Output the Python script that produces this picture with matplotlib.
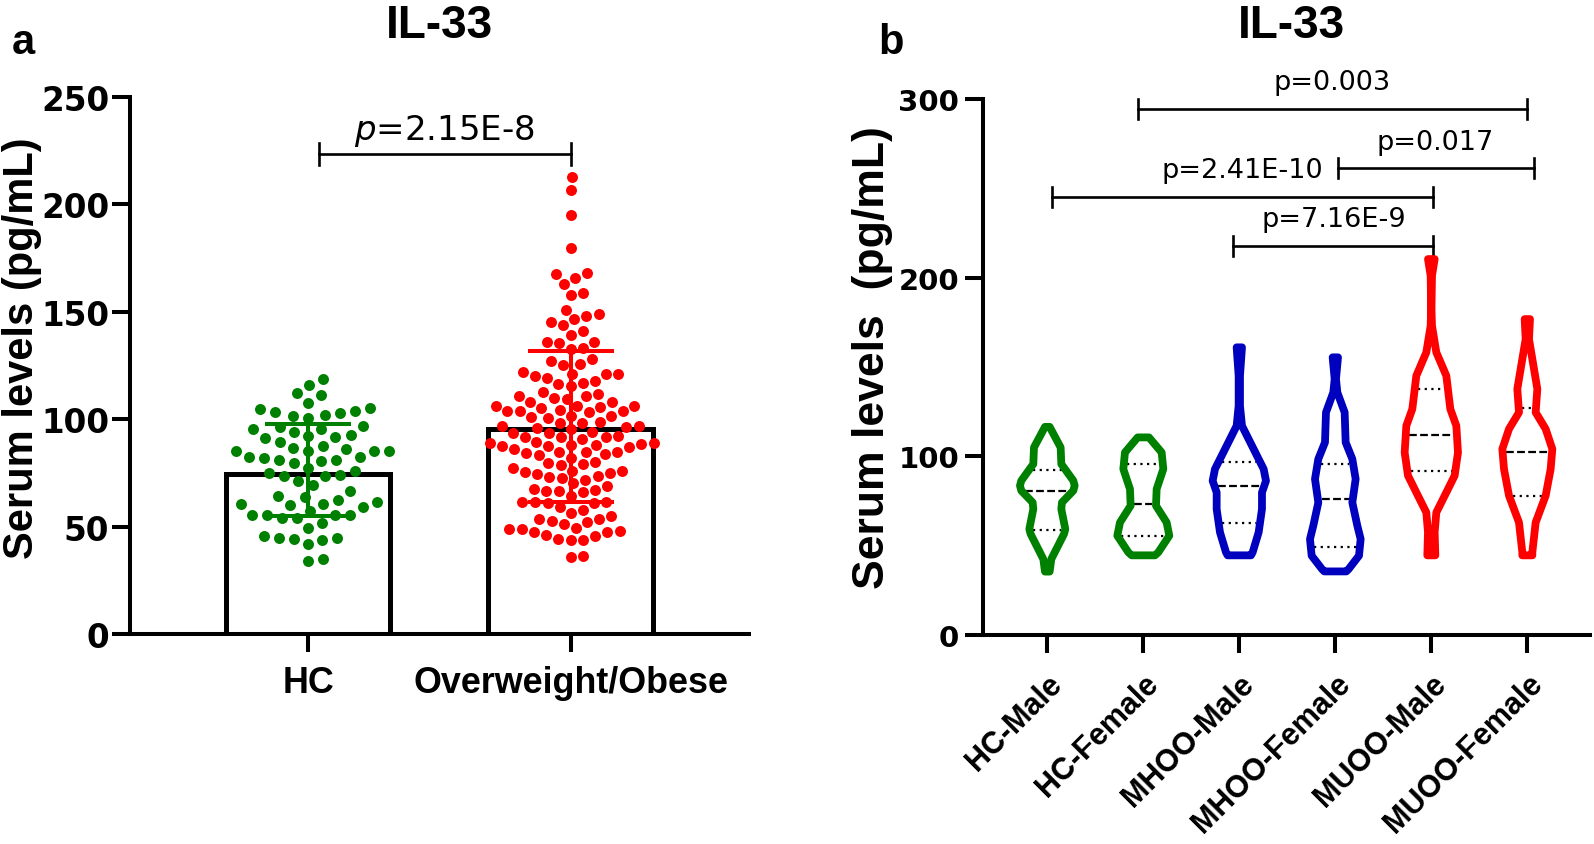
import numpy as np
import matplotlib
matplotlib.use("Agg")
import matplotlib.pyplot as plt

# ---------------- panel a data ----------------
groups_a = ["HC", "Overweight/Obese"]
bar_mean = [74.6, 95.5]
err_low = [54.9, 61.7]
err_high = [97.8, 131.9]

hc_values = [118.7, 116.0, 112.1, 111.3, 107.6,
             105.2, 104.8, 104.0, 103.2, 102.8, 102.2, 101.7, 100.5,
             97.0, 96.6, 95.5, 95.5, 94.0, 92.8, 92.1, 91.6, 91.2, 89.3,
             87.4, 86.7, 86.2, 85.1, 85.1, 85.1, 85.1,
             82.3, 82.3, 81.9, 81.2, 81.1, 80.5, 79.5, 77.2, 75.8,
             75.0, 74.1, 73.8, 73.5, 71.5, 69.6, 66.5,
             64.5, 63.7, 62.6, 61.4, 60.6, 60.3, 60.6, 59.1,
             57.2, 55.7, 55.7, 55.7, 54.1, 54.1, 55.7, 51.8, 49.5,
             45.9, 44.8, 44.7, 44.4, 43.9, 42.0, 35.1, 34.0]

ow_values = [212.5, 206.7, 195.0, 179.5, 168.0, 167.5, 165.7, 162.9, 158.7, 157.9,
             151.0, 148.9, 148.2, 146.6, 145.1, 144.0, 141.1, 139.3, 135.8, 135.3,
             136.1, 132.7, 133.1,
             128.0, 127.2, 125.7, 125.2,
             120.3, 122.1, 119.2, 121.1, 121.1, 121.1, 118.0, 116.9, 116.4,
             115.3, 112.5, 111.8, 110.7, 109.4, 109.8, 111.0,
             106.3, 106.0, 105.3, 104.0, 104.0, 108.2, 104.0, 106.3, 107.9, 104.5, 105.6,
             103.2, 100.9, 98.6, 96.7, 98.3, 101.4, 100.5, 101.7, 98.3, 96.7, 96.6, 95.5, 96.0,
             91.9, 91.9, 93.5, 93.5, 94.2, 92.1,
             88.5, 89.6, 88.8, 87.4, 87.4, 90.8, 91.9, 88.1, 88.1, 87.0, 88.8,
             84.6, 86.2, 84.9, 84.9, 83.9, 83.4, 84.2, 82.0,
             80.3, 78.8, 79.7, 77.4, 79.2,
             75.4, 76.1, 74.6, 76.1, 73.5, 74.9, 73.3, 72.6, 71.9, 70.2,
             69.1, 67.6, 66.5, 66.8, 66.1, 67.1, 64.5,
             61.4, 61.4, 60.9, 61.4, 60.9, 59.4, 58.0, 56.4, 54.9,
             53.6, 53.6, 52.6, 51.3, 52.4, 49.0, 48.2, 47.8, 49.0, 47.5, 49.3, 46.4, 45.9,
             44.4, 44.0, 44.0, 36.6, 35.8]

p_a = r"$\mathit{p}$=2.15E-8"
bracket_a = [0.043, 1.0, 223.3]

# ---------------- panel b data ----------------
groups_b = ["HC-Male", "HC-Female", "MHOO-Male", "MHOO-Female", "MUOO-Male", "MUOO-Female"]
colors_b = ["#008000", "#008000", "#0000bf", "#0000bf", "#ff0000", "#ff0000"]

# violin outline: levels (pg/mL) and relative half-width (density) at each level
vio_levels = [
    [116.5, 105.0, 95.7, 86.4, 83.6, 80.8, 74.2, 70.5, 59.3, 56.5, 42.5, 35.5],
    [110.6, 102.2, 92.9, 81.7, 72.4, 63.0, 55.6, 46.3, 44.6],
    [161.0, 145.1, 128.3, 117.1, 105.9, 92.9, 86.3, 79.8, 70.5, 57.5, 46.3, 44.6],
    [155.4, 143.3, 135.8, 124.6, 107.8, 98.5, 87.3, 74.2, 61.2, 53.7, 44.4, 36.9, 35.6],
    [210.4, 201.1, 182.4, 173.1, 158.2, 145.1, 126.5, 117.1, 102.2, 89.2, 79.8, 68.6, 57.5, 44.6],
    [176.8, 165.6, 148.9, 137.7, 124.6, 115.3, 104.1, 92.9, 78.0, 63.0, 46.3, 44.6],
]
vio_density = [
    [7, 40, 42, 78, 82, 78, 44, 42, 54, 50, 12, 7],
    [17, 55, 60, 40, 38, 70, 78, 45, 35],
    [8, 2, 2, 8, 38, 73, 80, 68, 68, 58, 40, 35],
    [8, 2, 6, 28, 31, 51, 61, 51, 66, 76, 71, 40, 33],
    [10, 2, 0.5, 2, 15, 45, 57, 75, 80, 70, 45, 15, 10, 12],
    [8, 5, 20, 30, 25, 55, 75, 70, 55, 25, 15, 15],
]
q1 = [58.8, 55.2, 62.6, 49.1, 91.9, 77.6]
median = [80.8, 73.3, 83.6, 76.1, 112.1, 102.2]
q3 = [92.3, 95.7, 97.0, 95.7, 137.7, 126.9]

# comparisons: (left group pos, right group pos, bracket level, label, label x, label y)
comparisons = [
    (0.94, 5.0, 294.3, "p=0.003", 2.97, 305.5),
    (3.03, 5.07, 261.1, "p=0.017", 4.04, 272.0),
    (0.046, 4.02, 245.3, "p=2.41E-10", 2.03, 256.1),
    (1.93, 4.02, 217.9, "p=7.16E-9", 2.98, 229.0),
]

LABEL_FONT = "Liberation Sans"
TICK_FONT = "DejaVu Sans"


def swarm_x(vals, center, ax, gap_px):
    """beeswarm placement in display pixels, closest to the centre line first"""
    trans = ax.transData
    vals = np.asarray(vals, dtype=float)
    y_px = trans.transform(np.column_stack([np.zeros(len(vals)), vals]))[:, 1]
    x0 = trans.transform([[center, 0]])[0, 0]
    px_per_x = trans.transform([[center + 1, 0]])[0, 0] - x0
    xs = np.zeros(len(vals))
    placed = []
    for i in np.argsort(vals):
        cands = [0.0]
        for px, py in placed:
            dy = y_px[i] - py
            if abs(dy) < gap_px:
                dx = np.sqrt(gap_px ** 2 - dy ** 2)
                cands += [px + dx, px - dx]
        cands.sort(key=abs)
        for c in cands:
            if all((c - px) ** 2 + (y_px[i] - py) ** 2 >= gap_px ** 2 - 1e-6 for px, py in placed):
                xs[i] = c
                placed.append((c, y_px[i]))
                break
    return center + xs / px_per_x


def style_axes(ax):
    for s in ["top", "right"]:
        ax.spines[s].set_visible(False)
    for s in ["left", "bottom"]:
        ax.spines[s].set_linewidth(2.9)
    ax.tick_params(axis="both", direction="out", length=13, width=2.9)


def bracket(ax, x1, x2, y, cap):
    ax.plot([x1, x2], [y, y], color="black", lw=1.9, clip_on=False)
    for x in (x1, x2):
        ax.plot([x, x], [y - cap, y + cap], color="black", lw=1.9, clip_on=False)


fig = plt.figure(figsize=(15.94, 8.45), dpi=100)

# ---------------- panel a ----------------
ax1 = fig.add_axes([0.0816, 0.248, 0.3883, 0.6365])
ax1.set_xlim(-0.678, 1.68)
ax1.set_ylim(0, 250)
style_axes(ax1)

xpos = np.arange(len(groups_a))
ax1.bar(xpos, bar_mean, width=0.625, fill=False, edgecolor="black", linewidth=3.6, zorder=2)

for i, (vals, col, gap) in enumerate(zip([hc_values, ow_values], ["#008000", "#ff0000"], [15.0, 12.6])):
    xs = swarm_x(vals, i, ax1, gap)
    ax1.plot(xs, vals, "o", color=col, markersize=7.9, markeredgewidth=0, zorder=3)
    ax1.errorbar(i, bar_mean[i], yerr=[[bar_mean[i] - err_low[i]], [err_high[i] - bar_mean[i]]],
                 color=col, elinewidth=2.9, capsize=31, capthick=2.9, zorder=4)

ax1.set_xticks(xpos)
ax1.set_xticklabels(groups_a, fontsize=25.8, fontweight="bold", family=LABEL_FONT)
ax1.tick_params(axis="x", pad=9)
ax1.set_yticks([0, 50, 100, 150, 200, 250])
ax1.set_yticklabels([str(t) for t in [0, 50, 100, 150, 200, 250]],
                    fontsize=23.5, fontweight="bold", family=TICK_FONT)
ax1.tick_params(axis="y", pad=2)
ax1.set_ylabel("Serum levels (pg/mL)", fontsize=30, fontweight="bold", family=LABEL_FONT)
ax1.yaxis.label.set_va("center")
ax1.yaxis.set_label_coords(-0.175, 0.535)

bracket(ax1, bracket_a[0], bracket_a[1], bracket_a[2], 5.0)
ax1.text(0.52, 230.3, p_a, ha="center", va="baseline", fontsize=24.5)

# ---------------- panel b ----------------
ax2 = fig.add_axes([0.6165, 0.2473, 0.381, 0.6344])
ax2.set_xlim(-0.673, 5.653)
ax2.set_ylim(0, 300)
style_axes(ax2)

wscale = 1 / 288.0
inner = 11 / 288.0
for i in range(len(groups_b)):
    lv = np.array(vio_levels[i])
    hw = np.array(vio_density[i]) * wscale
    xs = np.concatenate([i + hw, (i - hw)[::-1]])
    ys = np.concatenate([lv, lv[::-1]])
    ax2.fill(xs, ys, facecolor="none", edgecolor=colors_b[i], linewidth=5.6, joinstyle="round", zorder=3)
    for q, ls in [(q1[i], (0, (1, 2))), (median[i], (0, (3.5, 1.5))), (q3[i], (0, (1, 2)))]:
        w = np.interp(q, lv[::-1], hw[::-1]) - inner
        ax2.plot([i - w, i + w], [q, q], color="black", lw=1.6, linestyle=ls, zorder=2)

for x1, x2, y, lab, tx, ty in comparisons:
    bracket(ax2, x1, x2, y, 5.6)
    ax2.text(tx, ty, lab, ha="center", va="baseline", fontsize=19.5, clip_on=False)

ax2.set_xticks(np.arange(len(groups_b)))
ax2.set_xticklabels(groups_b, fontsize=22, fontweight="bold", family=LABEL_FONT,
                    rotation=45, ha="right", rotation_mode="anchor")
ax2.tick_params(axis="x", pad=11)
ax2.set_yticks([0, 100, 200, 300])
ax2.set_yticklabels(["0", "100", "200", "300"], fontsize=21, fontweight="bold", family=TICK_FONT)
ax2.tick_params(axis="y", pad=4)
ax2.set_ylabel("Serum levels  (pg/mL)", fontsize=32, fontweight="bold", family=LABEL_FONT)
ax2.yaxis.label.set_va("center")
ax2.yaxis.set_label_coords(-0.182, 0.52)

# ---------------- titles & panel letters ----------------
fig.text(0.2754, 0.955, "IL-33", ha="center", va="baseline", fontsize=33, fontweight="bold", family=LABEL_FONT)
fig.text(0.81, 0.955, "IL-33", ha="center", va="baseline", fontsize=33, fontweight="bold", family=LABEL_FONT)
fig.text(0.0145, 0.9495, "a", ha="center", va="center", fontsize=30, fontweight="bold", family=LABEL_FONT)
fig.text(0.5587, 0.9495, "b", ha="center", va="center", fontsize=30, fontweight="bold", family=LABEL_FONT)

fig.savefig("out.png", dpi=100)
